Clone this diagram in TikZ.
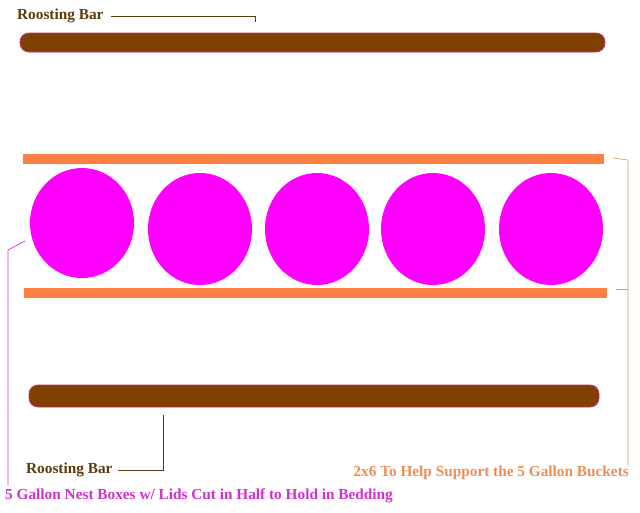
\documentclass[tikz,border=0pt]{standalone}
\usepackage{fontspec}
\setmainfont{Liberation Serif}
\definecolor{barbrown}{HTML}{804000}
\definecolor{barrim}{HTML}{C03070}
\definecolor{plank}{HTML}{FF8040}
\definecolor{planktext}{HTML}{F08C55}
\definecolor{planklead}{HTML}{D8A070}
\definecolor{bucket}{HTML}{FF00FF}
\definecolor{buckettext}{HTML}{D030D0}
\definecolor{labelbrown}{HTML}{5C3A0E}
\tikzset{
	roost/.style={fill=barbrown,draw=barrim,line width=0.8pt,rounded corners=9pt},
	planks/.style={fill=plank,draw=none},
	lbl/.style={font=\bfseries\fontsize{15.3}{17}\selectfont,inner sep=0pt,anchor=west}
}
\begin{document}
	\begin{tikzpicture}[x=1pt,y=-1pt]
		\useasboundingbox (0,0) rectangle (640,512);
		% roosting bars
		\draw[roost] (20,33) rectangle (605,52);
		\draw[roost] (29,385) rectangle (599,407);
		% 2x6 planks
		\fill[planks] (23,154) rectangle (604,164);
		\fill[planks] (24,288) rectangle (607,298);
		% nest buckets
		\fill[bucket] (82,223) ellipse (52 and 55);
		\foreach \cx in {200,317,433,551}
			\fill[bucket] (\cx,229) ellipse (52 and 56);

		\node[lbl,text=labelbrown] (topbar) at (17,16) {Roosting Bar};
		\node[lbl,text=labelbrown] (botbar) at (26,470) {Roosting Bar};
		\node[lbl,text=planktext,anchor=east] (planklbl) at (629,473) {2x6 To Help Support the 5 Gallon Buckets};
		\node[lbl,text=buckettext] (bucketlbl) at (5,496) {5 Gallon Nest Boxes w/ Lids Cut in Half to Hold in Bedding};

		% leaders
		\coordinate (topend) at (255,22);
		\coordinate (botend) at (163,415);
		\coordinate (bktend) at (25,241);
		\draw[labelbrown,line width=0.7pt] ([xshift=7pt]topbar.east) -- (topend |- topbar.east) -- (topend);
		\draw[labelbrown,line width=0.7pt] ([xshift=5pt]botbar.east) -- (botend |- botbar.east) -- (botend);
		\draw[planklead,line width=0.7pt] (613,158) -- (628,160) -- (628,466);
		\draw[planklead,line width=0.7pt] (616,289) -- (628,289);
		\draw[buckettext,line width=0.7pt] (bktend) -- (8,250) -- (8,485);
	\end{tikzpicture}
\end{document}
